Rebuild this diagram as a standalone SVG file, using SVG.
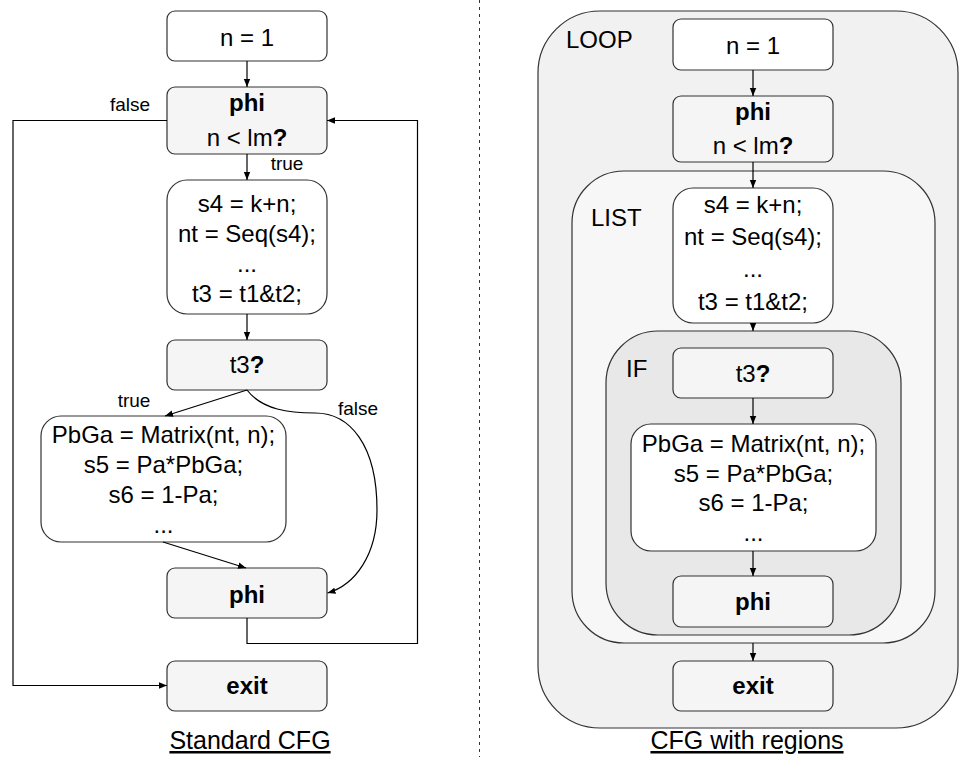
<svg xmlns="http://www.w3.org/2000/svg" width="959" height="757" viewBox="0 0 959 757">
<defs>
<marker id="ah" viewBox="0 0 10 10" refX="10" refY="5" markerWidth="8" markerHeight="8" orient="auto" markerUnits="userSpaceOnUse">
<path d="M0,1 L10,5 L0,9 z" fill="#000"/>
</marker>
</defs>
<style>
text{font-family:"Liberation Sans",Arial,sans-serif;font-size:24px;fill:#000;text-anchor:middle}
.lbl{font-size:19px}
.b{font-weight:bold}
.box{stroke:#333;stroke-width:1.2;fill:#fff}
.grey{fill:#f5f5f5}
.reg{stroke:#333;stroke-width:1.2}
.edge{stroke:#000;stroke-width:1.2;fill:none;marker-end:url(#ah)}
.cap{font-size:25px;text-decoration:underline}
.rl{text-anchor:start}
</style>
<rect width="959" height="757" fill="#fff"/>
<line x1="479.5" y1="0" x2="479.5" y2="757" stroke="#333" stroke-width="1" stroke-dasharray="3,4"/>

<!-- Left panel -->
<g id="L_n1"><rect class="box" x="167" y="11" width="160" height="50" rx="8"/><text x="247" y="46">n = 1</text></g>
<g id="L_phi1"><rect class="box grey" x="167" y="87" width="160" height="67" rx="8"/><text x="247" y="111" class="b">phi</text><text x="247" y="146">n &lt; lm<tspan class="b">?</tspan></text></g>
<g id="L_s4"><rect class="box" x="167" y="180" width="160" height="134" rx="20"/><text x="247" y="212">s4 = k+n;</text><text x="247" y="242">nt = Seq(s4);</text><text x="247" y="272">...</text><text x="247" y="302">t3 = t1&amp;t2;</text></g>
<g id="L_t3"><rect class="box grey" x="167" y="340" width="160" height="50" rx="8"/><text x="247" y="373">t3<tspan class="b">?</tspan></text></g>
<g id="L_pb"><rect class="box" x="41" y="416" width="245" height="126" rx="20"/><text x="163.5" y="443">PbGa = Matrix(nt, n);</text><text x="163.5" y="473">s5 = Pa*PbGa;</text><text x="163.5" y="503">s6 = 1-Pa;</text><text x="163.5" y="533">...</text></g>
<g id="L_phi2"><rect class="box grey" x="167" y="568" width="160" height="50" rx="8"/><text x="247" y="603" class="b">phi</text></g>
<g id="L_exit"><rect class="box grey" x="167" y="661" width="160" height="50" rx="8"/><text x="247" y="694" class="b">exit</text></g>

<g id="L_edges">
<line class="edge" x1="247" y1="61" x2="247" y2="87"/>
<line class="edge" x1="247" y1="154" x2="247" y2="180"/>
<line class="edge" x1="247" y1="314" x2="247" y2="340"/>
<polyline class="edge" points="167,120.5 13,120.5 13,685.5 167,685.5"/>
<polyline class="edge" points="247,618 247,643.5 417.5,643.5 417.5,120.5 327,120.5"/>
<line class="edge" x1="247" y1="390" x2="165" y2="416"/>
<path class="edge" d="M247,390 C262,410 290,413 315,413 C350,413 377,445 377,510 C377,555 355,585 327.5,593"/>
<line class="edge" x1="163" y1="542" x2="246" y2="568"/>
<text class="lbl" x="130" y="111">false</text>
<text class="lbl" x="287" y="170">true</text>
<text class="lbl" x="134" y="407">true</text>
<text class="lbl" x="358" y="415">false</text>
</g>
<text class="cap" x="250" y="749">Standard CFG</text>

<!-- Right panel -->
<g id="R_loop"><rect class="reg" fill="#f1f1f1" x="538" y="11" width="420" height="717" rx="62"/><text class="rl" x="566" y="48">LOOP</text></g>
<g id="R_list"><rect class="reg" fill="#f7f7f7" x="572" y="171" width="363" height="472" rx="52"/><text class="rl" x="591" y="226">LIST</text></g>
<g id="R_if"><rect class="reg" fill="#e8e8e8" x="606" y="331" width="295" height="304" rx="52"/><text class="rl" x="626" y="377">IF</text></g>
<g id="R_n1"><rect class="box" x="673" y="19" width="160" height="51" rx="8"/><text x="753" y="54">n = 1</text></g>
<g id="R_phi1"><rect class="box grey" x="673" y="96" width="160" height="66" rx="8"/><text x="753" y="120" class="b">phi</text><text x="753" y="154">n &lt; lm<tspan class="b">?</tspan></text></g>
<g id="R_s4"><rect class="box" x="673" y="188" width="160" height="135" rx="20"/><text x="753" y="213">s4 = k+n;</text><text x="753" y="245">nt = Seq(s4);</text><text x="753" y="277">...</text><text x="753" y="310">t3 = t1&amp;t2;</text></g>
<g id="R_t3"><rect class="box grey" x="673" y="348" width="160" height="50" rx="8"/><text x="753" y="382">t3<tspan class="b">?</tspan></text></g>
<g id="R_pb"><rect class="box" x="631" y="424" width="245" height="127" rx="20"/><text x="753.5" y="452">PbGa = Matrix(nt, n);</text><text x="753.5" y="482">s5 = Pa*PbGa;</text><text x="753.5" y="511">s6 = 1-Pa;</text><text x="753.5" y="541">...</text></g>
<g id="R_phi2"><rect class="box grey" x="673" y="576" width="160" height="51" rx="8"/><text x="753" y="610" class="b">phi</text></g>
<g id="R_exit"><rect class="box grey" x="673" y="661" width="160" height="50" rx="8"/><text x="753" y="694" class="b">exit</text></g>
<g id="R_edges">
<line class="edge" x1="753" y1="70" x2="753" y2="96"/>
<line class="edge" x1="753" y1="162" x2="753" y2="188"/>
<line class="edge" x1="753" y1="323" x2="753" y2="331"/>
<line class="edge" x1="753" y1="398" x2="753" y2="424"/>
<line class="edge" x1="753" y1="551" x2="753" y2="576"/>
<line class="edge" x1="753" y1="643" x2="753" y2="661"/>
</g>
<text class="cap" x="747" y="749">CFG with regions</text>
</svg>
